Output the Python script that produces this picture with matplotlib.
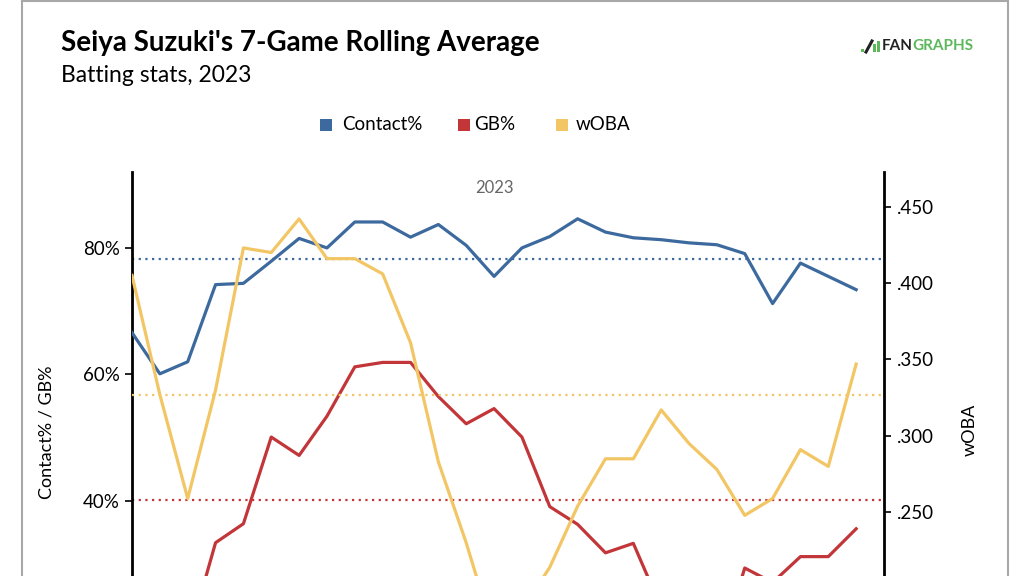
import matplotlib.pyplot as plt
from matplotlib.patches import Rectangle
from matplotlib.lines import Line2D

plt.rcParams['font.family'] = ['Lato', 'DejaVu Sans']

# 7-game rolling values, one per game window
games = list(range(27))
contact = [66.6, 60.1, 62.0, 74.2, 74.4, 77.9, 81.5, 80.0, 84.1, 84.1, 81.7, 83.7, 80.4, 75.5,
           80.0, 81.8, 84.6, 82.5, 81.6, 81.3, 80.8, 80.5, 79.1, 71.2, 77.6, 75.5, 73.4]
gb = [22.0, 20.0, 17.9, 33.4, 36.4, 50.1, 47.2, 53.4, 61.2, 61.9, 61.9, 56.5, 52.2, 54.6,
      50.1, 39.1, 36.3, 31.8, 33.3, 23.1, 18.0, 15.0, 29.4, 27.1, 31.2, 31.2, 35.6]
woba = [0.405, 0.327, 0.259, 0.330, 0.423, 0.420, 0.442, 0.416, 0.416, 0.406, 0.361, 0.283, 0.230, 0.170,
        0.186, 0.214, 0.254, 0.285, 0.285, 0.317, 0.295, 0.278, 0.248, 0.259, 0.291, 0.280, 0.347]

contact_avg = 78.3
gb_avg = 40.2
woba_avg = 0.3266

BLUE = '#3D6A9E'
RED = '#C2363A'
YELLOW = '#F3C665'
GREEN = '#5DB85B'

fig = plt.figure(figsize=(10.24, 5.76), dpi=100)

# axes runs past the bottom edge, as in the cropped original
ax = fig.add_axes([132 / 1024, -178 / 576, 752 / 1024, 582 / 576])
ax.set_xlim(0, 27)
ax.set_ylim(0, 92)
ax.set_yticks([40, 60, 80])
ax.set_yticklabels(['40%', '60%', '80%'])
ax.set_xticks([])
for s in ['top', 'right', 'bottom']:
    ax.spines[s].set_visible(False)
ax.spines['left'].set_linewidth(2)
ax.tick_params(axis='y', length=5, width=1.2, labelsize=13.5, pad=4, colors='black')

ax.axhline(contact_avg, color=BLUE, linestyle=(0, (1, 2)), linewidth=1.6, zorder=1)
ax.axhline(gb_avg, color=RED, linestyle=(0, (1, 2)), linewidth=1.6, zorder=1)
ax.plot(games, contact, color=BLUE, linewidth=2.3, zorder=3)
ax.plot(games, gb, color=RED, linewidth=2.3, zorder=3)

ax2 = ax.twinx()
ax2.set_ylim(0.0918, 0.4727)
ax2.set_yticks([0.25, 0.30, 0.35, 0.40, 0.45])
ax2.set_yticklabels(['.250', '.300', '.350', '.400', '.450'])
for s in ['top', 'left', 'bottom']:
    ax2.spines[s].set_visible(False)
ax2.spines['right'].set_linewidth(2)
ax2.tick_params(axis='y', length=5, width=1.2, labelsize=13.5, pad=4, colors='black')
ax2.axhline(woba_avg, color=YELLOW, linestyle=(0, (1, 2)), linewidth=1.6, zorder=1)
ax2.plot(games, woba, color=YELLOW, linewidth=2.3, zorder=3)

ax.text(13.0, 89.5, '2023', ha='center', va='center', fontsize=12, color='#666666')

# axis titles
fig.text(47 / 1024, 1 - 432 / 576, 'Contact% / GB%', rotation=90, ha='center', va='center',
         fontsize=13)
fig.text(970 / 1024, 1 - 430 / 576, 'wOBA', rotation=90, ha='center', va='center',
         fontsize=13)

# titles
fig.text(61 / 1024, 1 - 43 / 576, "Seiya Suzuki's 7-Game Rolling Average", ha='left',
         va='center', fontsize=20, fontweight='bold')
fig.text(61 / 1024, 1 - 75 / 576, 'Batting stats, 2023', ha='left', va='center', fontsize=16.5)

# legend
leg_items = [(320, 342, 'Contact%', BLUE), (458, 474, 'GB%', RED), (556, 576, 'wOBA', YELLOW)]
for sx, tx, label, color in leg_items:
    fig.add_artist(Rectangle((sx / 1024, 1 - 131 / 576), 12 / 1024, 12 / 576,
                             facecolor=color, edgecolor='none', transform=fig.transFigure))
    fig.text(tx / 1024, 1 - 125 / 576, label, ha='left', va='center', fontsize=13.5)

# logo
fig.add_artist(Rectangle((861 / 1024, 1 - 52 / 576), 3 / 1024, 3 / 576,
                         facecolor=GREEN, edgecolor='none', transform=fig.transFigure))
fig.add_artist(Line2D([866 / 1024, 872 / 1024], [1 - 52 / 576, 1 - 41 / 576],
                      color='#222222', linewidth=2.2, transform=fig.transFigure))
for i, h in enumerate([8, 11]):
    fig.add_artist(Rectangle(((873 + i * 4) / 1024, 1 - 52 / 576), 2.5 / 1024, h / 576,
                             facecolor=GREEN, edgecolor='none', transform=fig.transFigure))
fig.text(882 / 1024, 1 - 46.5 / 576, 'FAN', ha='left', va='center', fontsize=11,
         fontweight='bold', color='#222222')
fig.text(912 / 1024, 1 - 46.5 / 576, 'GRAPHS', ha='left', va='center', fontsize=11,
         fontweight='bold', color=GREEN)

# outer border
border = dict(color='#A8A8A8', linewidth=1.5, transform=fig.transFigure)
fig.add_artist(Line2D([22 / 1024, 1008 / 1024], [1 - 1 / 576, 1 - 1 / 576], **border))
fig.add_artist(Line2D([22 / 1024, 22 / 1024], [0, 1 - 1 / 576], **border))
fig.add_artist(Line2D([1008 / 1024, 1008 / 1024], [0, 1 - 1 / 576], **border))

fig.savefig('out.png', dpi=100)
